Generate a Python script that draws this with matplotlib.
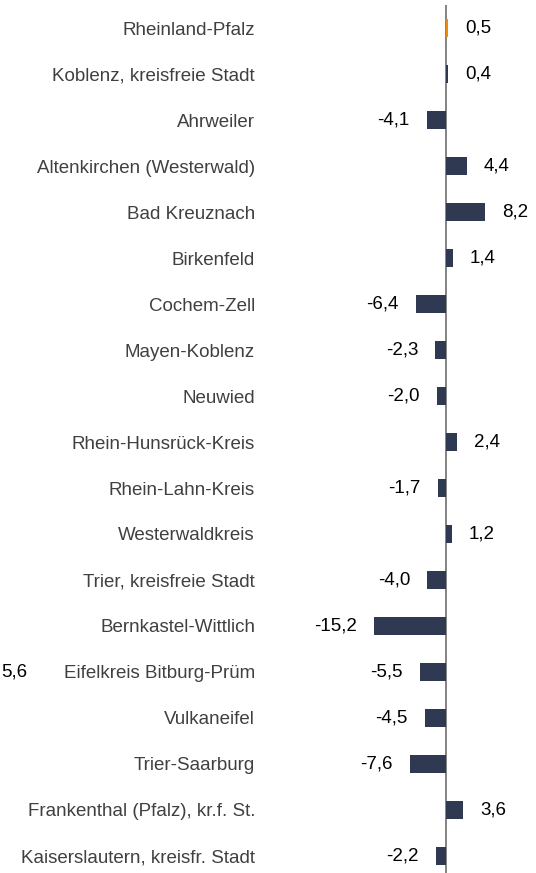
import matplotlib
matplotlib.use("Agg")
import matplotlib.pyplot as plt
from matplotlib.transforms import offset_copy

plt.rcParams['font.family'] = ['Liberation Sans', 'DejaVu Sans']

categories = [
    "Rheinland-Pfalz", "Koblenz, kreisfreie Stadt", "Ahrweiler",
    "Altenkirchen (Westerwald)", "Bad Kreuznach", "Birkenfeld",
    "Cochem-Zell", "Mayen-Koblenz", "Neuwied", "Rhein-Hunsrück-Kreis",
    "Rhein-Lahn-Kreis", "Westerwaldkreis", "Trier, kreisfreie Stadt",
    "Bernkastel-Wittlich", "Eifelkreis Bitburg-Prüm", "Vulkaneifel",
    "Trier-Saarburg", "Frankenthal (Pfalz), kr.f. St.",
    "Kaiserslautern, kreisfr. Stadt",
]
values = [0.5, 0.4, -4.1, 4.4, 8.2, 1.4, -6.4, -2.3, -2.0, 2.4, -1.7, 1.2,
          -4.0, -15.2, -5.5, -4.5, -7.6, 3.6, -2.2]
stray_label = "5,6"

W, H = 536, 873
fig = plt.figure(figsize=(W / 100, H / 100), dpi=100)
left_px = 290
ax = fig.add_axes([left_px / W, 0, 1 - left_px / W, 1])

zero_px = 446
ppu = 4.75
ax.set_xlim(-(zero_px - left_px) / ppu, (W - zero_px) / ppu)
row0 = 28.2
step = 45.98
ybot = 18 + (H - (row0 + 18 * step)) / step
ax.set_ylim(ybot, -row0 / step)

navy = "#2f3a52"
orange = "#ef8a0c"
colors = [orange] + [navy] * (len(values) - 1)
ys = list(range(len(values)))

ax.vlines(0, (5 - row0) / step, ybot, color="#7a7a7a", linewidth=1.3, zorder=2)
ax.barh(ys, values, height=0.40, color=colors, zorder=3)

txt_color = "#404040"
fs = 13.5
for y, v in zip(ys, values):
    lab = f"{v:.1f}".replace(".", ",")
    if v >= 0:
        tr = offset_copy(ax.transData, fig=fig, x=12.2, y=0, units='points')
        ax.text(v, y, lab, transform=tr, ha='left', va='center',
                fontsize=fs, color="black")
    else:
        tr = offset_copy(ax.transData, fig=fig, x=-12.2, y=0, units='points')
        ax.text(v, y, lab, transform=tr, ha='right', va='center',
                fontsize=fs, color="black")

ax.set_yticks(ys)
ax.set_yticklabels(categories, fontsize=fs, color=txt_color)
ax.tick_params(axis='y', length=0, pad=(left_px - 255) * 0.72)
ax.set_xticks([])
for s in ax.spines.values():
    s.set_visible(False)

# stray label at the far left edge (as in the reference)
ax.text((1 - zero_px) / ppu, 14, stray_label, ha='left', va='center',
        fontsize=fs, color="black", clip_on=False)

fig.savefig("out.png", dpi=100)
